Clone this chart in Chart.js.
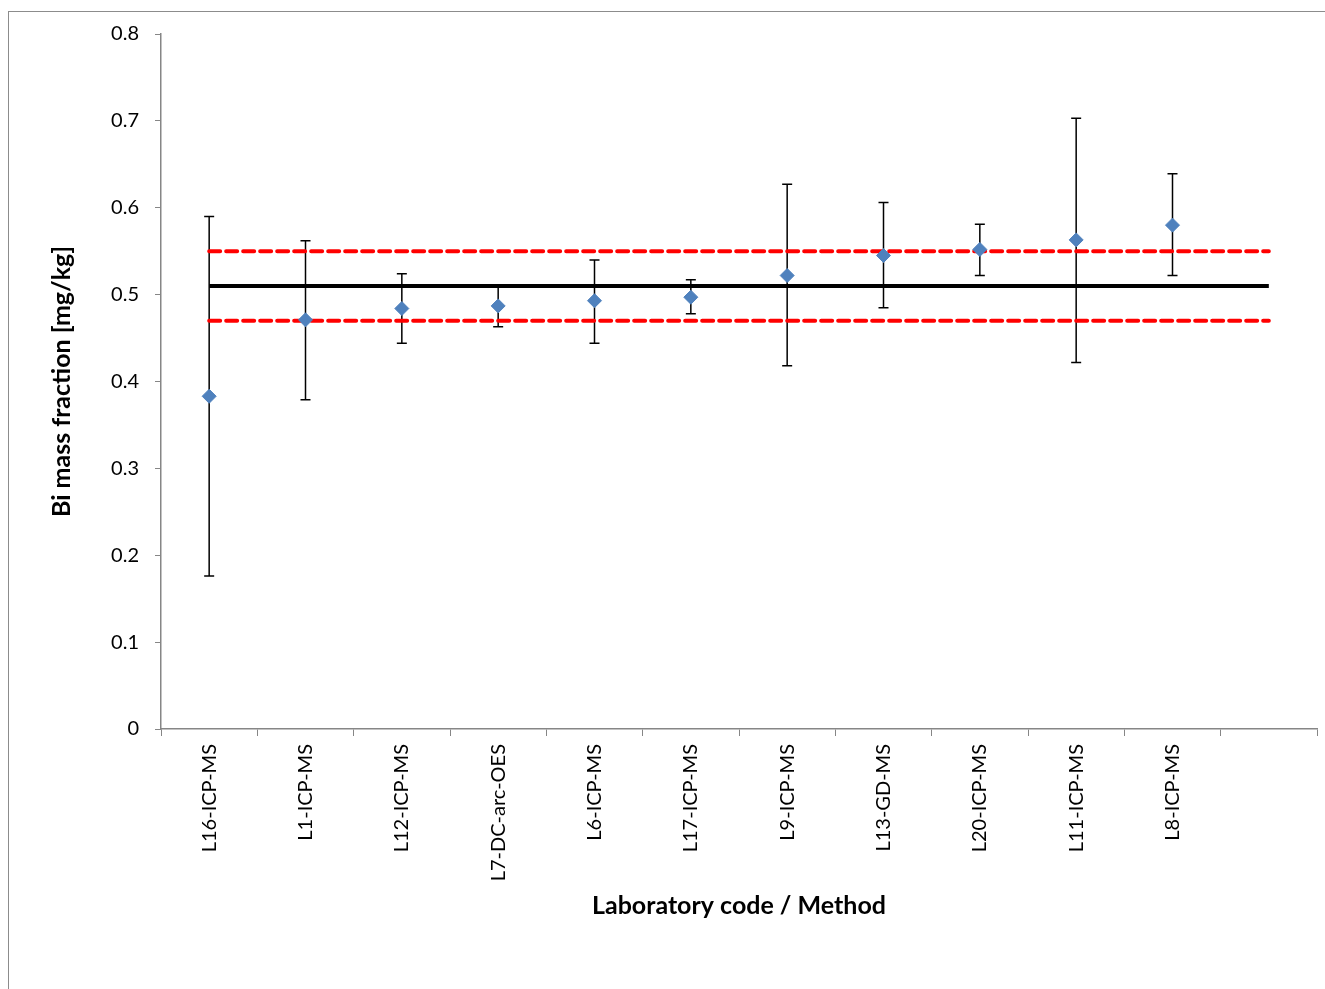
<!DOCTYPE html>
<html>
<head>
    <script src="https://cdn.jsdelivr.net/npm/chart.js"></script>
    <style>
        body {
            margin: 0;
            background: #ffffff;
        }
        .frame {
            position: absolute;
            left: 8px;
            top: 11px;
            width: 1400px;
            height: 1100px;
            border: 1px solid #8c8c8c;
        }
        .chart-container {
            position: absolute;
            left: 0;
            top: 0;
            width: 1325px;
            height: 989px;
        }
    </style>
</head>
<body>
    <div class="frame"></div>
    <div class="chart-container">
        <canvas id="biChart"></canvas>
    </div>

    <script>
        // laboratory results, last category left empty so the reference lines run past L8
        const labs = ['L16-ICP-MS', 'L1-ICP-MS', 'L12-ICP-MS', 'L7-DC-arc-OES', 'L6-ICP-MS', 'L17-ICP-MS',
                      'L9-ICP-MS', 'L13-GD-MS', 'L20-ICP-MS', 'L11-ICP-MS', 'L8-ICP-MS', ''];
        const results = [0.383, 0.471, 0.484, 0.487, 0.493, 0.497, 0.522, 0.545, 0.552, 0.563, 0.580];
        const upper = [0.590, 0.562, 0.524, 0.510, 0.540, 0.517, 0.627, 0.606, 0.581, 0.703, 0.639];
        const lower = [0.176, 0.379, 0.444, 0.463, 0.444, 0.478, 0.418, 0.485, 0.522, 0.422, 0.522];
        const assigned = [0.51, 0.51, 0.51, 0.51, 0.51, 0.51, 0.51, 0.51, 0.51, 0.51, 0.51, 0.51];
        const limitHigh = [0.55, 0.55, 0.55, 0.55, 0.55, 0.55, 0.55, 0.55, 0.55, 0.55, 0.55, 0.55];
        const limitLow = [0.47, 0.47, 0.47, 0.47, 0.47, 0.47, 0.47, 0.47, 0.47, 0.47, 0.47, 0.47];
        const yTicks = [0, 0.1, 0.2, 0.3, 0.4, 0.5, 0.6, 0.7, 0.8];

        const axisGrey = '#868686';
        const fontFamily = 'Lato, "Open Sans", sans-serif';

        // whiskers for each lab result, drawn under the lines and markers
        const errorBars = {
            id: 'errorBars',
            beforeDatasetsDraw(chart) {
                const ctx = chart.ctx;
                const x = chart.scales.x;
                const y = chart.scales.y;
                ctx.save();
                ctx.strokeStyle = '#000000';
                ctx.lineWidth = 1.5;
                for (let i = 0; i < results.length; i++) {
                    const px = x.getPixelForValue(i);
                    const top = y.getPixelForValue(upper[i]);
                    const bottom = y.getPixelForValue(lower[i]);
                    ctx.beginPath();
                    ctx.moveTo(px, top);
                    ctx.lineTo(px, bottom);
                    ctx.moveTo(px - 5, top);
                    ctx.lineTo(px + 5, top);
                    ctx.moveTo(px - 5, bottom);
                    ctx.lineTo(px + 5, bottom);
                    ctx.stroke();
                }
                ctx.restore();
            }
        };

        document.addEventListener('DOMContentLoaded', function () {
            const ctx = document.getElementById('biChart').getContext('2d');

            new Chart(ctx, {
                type: 'line',
                data: {
                    labels: labs,
                    datasets: [
                        {
                            label: 'Result',
                            data: results,
                            showLine: false,
                            pointStyle: 'rectRot',
                            pointRadius: 7,
                            pointBorderWidth: 1,
                            backgroundColor: '#4f81bd',
                            borderColor: '#4f81bd',
                            order: 0
                        },
                        {
                            label: 'Assigned value',
                            data: assigned,
                            borderColor: '#000000',
                            borderWidth: 4,
                            pointRadius: 0,
                            order: 1
                        },
                        {
                            label: 'Upper limit',
                            data: limitHigh,
                            borderColor: '#ff0000',
                            borderWidth: 4,
                            borderDash: [11, 6],
                            borderCapStyle: 'round',
                            pointRadius: 0,
                            order: 1
                        },
                        {
                            label: 'Lower limit',
                            data: limitLow,
                            borderColor: '#ff0000',
                            borderWidth: 4,
                            borderDash: [11, 6],
                            borderCapStyle: 'round',
                            pointRadius: 0,
                            order: 1
                        }
                    ]
                },
                options: {
                    responsive: true,
                    maintainAspectRatio: false,
                    animation: false,
                    layout: {
                        padding: { left: 47, top: 34, right: 6, bottom: 68 }
                    },
                    plugins: {
                        legend: { display: false },
                        tooltip: { enabled: false }
                    },
                    scales: {
                        x: {
                            offset: true,
                            grid: {
                                offset: true,
                                drawOnChartArea: false,
                                color: axisGrey,
                                tickLength: 7
                            },
                            border: { color: axisGrey, width: 1.5 },
                            ticks: {
                                font: { family: fontFamily, size: 20 },
                                color: '#000000',
                                minRotation: 90,
                                maxRotation: 90,
                                autoSkip: false,
                                padding: 8
                            },
                            title: {
                                display: true,
                                text: 'Laboratory code / Method',
                                font: { family: fontFamily, size: 25, weight: 'bold' },
                                color: '#000000',
                                padding: 0
                            },
                            afterFit: function (scale) {
                                scale.height = 192;
                                scale.paddingRight = 0;
                            }
                        },
                        y: {
                            min: 0,
                            max: 0.8,
                            grid: {
                                drawOnChartArea: false,
                                color: axisGrey,
                                tickLength: 6
                            },
                            border: { color: axisGrey, width: 1.5 },
                            afterBuildTicks: function (scale) {
                                scale.ticks = yTicks.map(v => ({ value: v }));
                            },
                            ticks: {
                                font: { family: fontFamily, size: 20 },
                                color: '#000000',
                                padding: 16,
                                callback: v => String(Math.round(v * 10) / 10)
                            },
                            title: {
                                display: true,
                                text: 'Bi mass fraction [mg/kg]',
                                font: { family: fontFamily, size: 25, weight: 'bold' },
                                color: '#000000',
                                padding: 0
                            },
                            afterFit: function (scale) {
                                scale.width = 114;
                            }
                        }
                    }
                },
                plugins: [errorBars]
            });
        });
    </script>
</body>
</html>
